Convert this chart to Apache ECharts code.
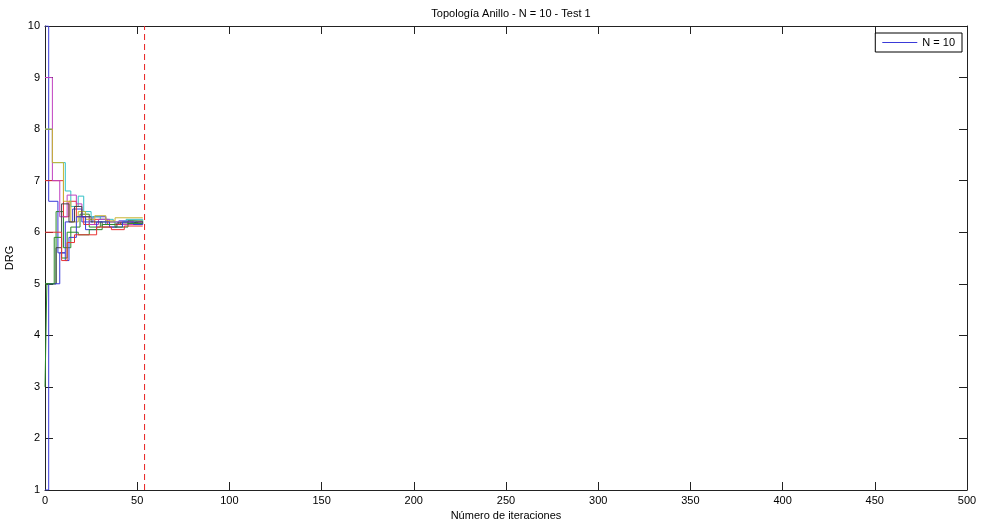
<!DOCTYPE html>
<html>
<head>
<meta charset="utf-8">
<title>Topología Anillo - N = 10 - Test 1</title>
<script src="https://cdn.jsdelivr.net/npm/echarts@6/dist/echarts.min.js"></script>
<style>
  html, body { margin: 0; padding: 0; background: #fff; }
  #chart { width: 981px; height: 529px; }
</style>
</head>
<body>
<div id="chart"></div>
<script>
// Axis ranges and ticks
const xTicks = { min: 0, max: 500, step: 50 };
const yTicks = { min: 1, max: 10, step: 1 };

// Iteration at which all nodes agree (dashed marker)
const convergenceIter = 54;

// DRG value of each node: [iteration, value] at every change of value
const node1 = [[0,10],[2,6.6],[7,5.6],[11,6.2],[15,6.45],[20,6.2],[26,6.3],[33,6.15],[40,6.22],[47,6.2],[53,6.2]];
const node2 = [[0,3],[1,5.0],[6,6.4],[10,5.7],[14,6.1],[19,6.35],[24,6.1],[30,6.2],[38,6.15],[45,6.22],[53,6.2]];
const node3 = [[0,7],[10,6.3],[13,6.6],[17,6.3],[21,6.15],[27,6.25],[34,6.15],[41,6.2],[48,6.15],[53,6.16]];
const node4 = [[0,8],[4,7.35],[11,6.8],[14,6.5],[18,6.7],[21,6.4],[25,6.3],[30,6.25],[37,6.2],[44,6.25],[53,6.22]];
const node5 = [[0,9],[4,7.0],[8,6.3],[12,6.72],[17,6.55],[20,6.3],[24,6.15],[29,6.25],[35,6.2],[42,6.15],[50,6.2],[53,6.19]];
const node6 = [[0,8],[4,7.35],[10,6.6],[14,6.2],[18,6.4],[22,6.25],[27,6.32],[33,6.22],[38,6.28],[53,6.27]];
const node7 = [[0,5],[6,5.7],[9,6.55],[13,6.2],[16,6.5],[20,6.3],[25,6.2],[31,6.1],[39,6.18],[46,6.2],[53,6.17]];
const node8 = [[0,1],[2,5.0],[8,5.6],[11,5.45],[13,5.9],[17,6.3],[22,6.05],[28,6.2],[35,6.1],[42,6.2],[48,6.15],[53,6.18]];
const node9 = [[0,5],[5,5.9],[9,5.5],[12,6.0],[18,5.95],[24,6.05],[31,6.15],[38,6.1],[45,6.17],[53,6.17]];
const node10 = [[0,6],[9,5.45],[12,5.8],[16,5.95],[28,6.1],[36,6.05],[43,6.12],[53,6.13]];

const nodes = [node1, node2, node3, node4, node5, node6, node7, node8, node9, node10];
const legendName = 'N = 10';

// Line colour order, cycled over the nodes
const colorOrder = ['#3a3ad8', '#2a8a2a', '#e83232', '#30c0c6', '#c040c0', '#c8b432', '#444444'];

const fontFamily = "'Liberation Sans', Arial, sans-serif";
const axisColor = '#222';

const series = nodes.map((data, i) => ({
  name: i === 0 ? legendName : 'nodo ' + (i + 1),
  type: 'line',
  data: data,
  step: 'end',
  showSymbol: false,
  symbol: 'none',
  lineStyle: { width: 1, color: colorOrder[i % colorOrder.length] },
  itemStyle: { color: colorOrder[i % colorOrder.length] },
  z: 3
}));

series.push({
  name: 'convergencia',
  type: 'line',
  data: [[convergenceIter, yTicks.min], [convergenceIter, yTicks.max]],
  showSymbol: false,
  symbol: 'none',
  lineStyle: { width: 1, color: '#e82020', type: [6, 4] },
  z: 4
});

const common = { fontFamily: fontFamily, fontSize: 11, color: '#000' };

const chart = echarts.init(document.getElementById('chart'), null, { renderer: 'canvas' });
chart.setOption({
  animation: false,
  backgroundColor: '#fff',
  title: {
    text: 'Topología Anillo - N = 10 - Test 1',
    left: 506,
    textAlign: 'center',
    top: 3,
    textStyle: { fontFamily: fontFamily, fontSize: 11, fontWeight: 'normal', color: '#000' }
  },
  legend: {
    data: [{ name: legendName, icon: 'rect' }],
    right: 19,
    top: 33,
    itemWidth: 35,
    itemHeight: 1,
    padding: [4, 7, 4, 7],
    borderColor: '#000',
    borderWidth: 1,
    backgroundColor: '#fff',
    selectedMode: false,
    textStyle: common
  },
  grid: {
    left: 45,
    right: 14,
    top: 26,
    bottom: 39,
    containLabel: false,
    outerBoundsMode: 'none'
  },
  xAxis: [{
    type: 'value',
    min: xTicks.min,
    max: xTicks.max,
    interval: xTicks.step,
    name: 'Número de iteraciones',
    nameLocation: 'middle',
    nameGap: 20,
    nameTextStyle: common,
    axisLine: { onZero: false, lineStyle: { color: axisColor, width: 1 } },
    axisTick: { inside: true, length: 8, lineStyle: { color: axisColor } },
    axisLabel: Object.assign({ margin: 5 }, common),
    splitLine: { show: false }
  }, {
    type: 'value',
    position: 'top',
    min: xTicks.min,
    max: xTicks.max,
    interval: xTicks.step,
    axisLine: { onZero: false, lineStyle: { color: axisColor, width: 1 } },
    axisTick: { inside: true, length: 8, lineStyle: { color: axisColor } },
    axisLabel: { show: false },
    splitLine: { show: false }
  }],
  yAxis: [{
    type: 'value',
    min: yTicks.min,
    max: yTicks.max,
    interval: yTicks.step,
    name: 'DRG',
    nameLocation: 'middle',
    nameGap: 30,
    nameRotate: 90,
    nameTextStyle: common,
    axisLine: { show: true, onZero: false, lineStyle: { color: axisColor, width: 1 } },
    axisTick: { show: true, inside: true, length: 8, lineStyle: { color: axisColor } },
    axisLabel: Object.assign({ margin: 5 }, common),
    splitLine: { show: false }
  }, {
    type: 'value',
    position: 'right',
    min: yTicks.min,
    max: yTicks.max,
    interval: yTicks.step,
    axisLine: { show: true, onZero: false, lineStyle: { color: axisColor, width: 1 } },
    axisTick: { show: true, inside: true, length: 8, lineStyle: { color: axisColor } },
    axisLabel: { show: false },
    splitLine: { show: false }
  }],
  series: series
});
</script>
</body>
</html>
